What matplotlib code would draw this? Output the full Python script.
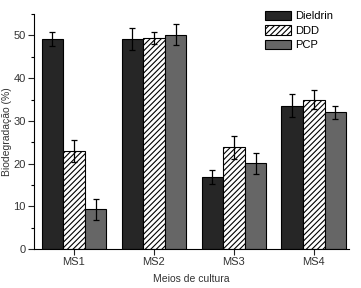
import matplotlib
matplotlib.use('Agg')
import matplotlib.pyplot as plt
import numpy as np
from matplotlib.ticker import MultipleLocator

plt.rcParams['font.family'] = ['Liberation Sans', 'DejaVu Sans']
plt.rcParams['hatch.linewidth'] = 0.8

# dados
meios = ['MS1', 'MS2', 'MS3', 'MS4']
dieldrin = [49.2, 49.2, 16.8, 33.6]
dieldrin_err = [1.6, 2.6, 1.6, 2.6]
ddd = [23.0, 49.4, 23.8, 35.0]
ddd_err = [2.6, 1.5, 2.6, 2.3]
pcp = [9.3, 50.2, 20.1, 32.0]
pcp_err = [2.4, 2.5, 2.5, 1.6]

fig = plt.figure(figsize=(3.61, 2.88), dpi=100)
ax = fig.add_axes([0.094, 0.135, 0.873, 0.816])

x = np.arange(len(meios))
w = 0.27
ek = dict(ecolor='black', elinewidth=0.9, capsize=2.2, capthick=0.9)
ax.bar(x - w, dieldrin, w, yerr=dieldrin_err, color='#262626', edgecolor='black', linewidth=0.8, label='Dieldrin', error_kw=ek)
ax.bar(x, ddd, w, yerr=ddd_err, color='white', edgecolor='black', hatch='//////', linewidth=0.8, label='DDD', error_kw=ek)
ax.bar(x + w, pcp, w, yerr=pcp_err, color='#666666', edgecolor='black', linewidth=0.8, label='PCP', error_kw=ek)

ax.set_xlim(-0.5, 3.44)
ax.set_ylim(0, 55)
ax.set_xticks(x)
ax.set_xticklabels(meios)
ax.yaxis.set_major_locator(MultipleLocator(10))
ax.yaxis.set_minor_locator(MultipleLocator(5))
ax.tick_params(axis='both', which='major', labelsize=8, length=4, width=0.8, pad=2,
               colors='#222222', labelcolor='#333333')
ax.tick_params(axis='y', which='minor', length=2.5, width=0.8)
ax.spines['top'].set_visible(False)
ax.spines['right'].set_visible(False)
ax.spines['left'].set_linewidth(0.8)
ax.spines['bottom'].set_linewidth(0.8)
ax.set_ylabel('Biodegradação (%)', fontsize=7.5, color='#333333', labelpad=1)
ax.set_xlabel('Meios de cultura', fontsize=7.5, color='#333333', labelpad=5)

ax.legend(loc='upper left', bbox_to_anchor=(0.715, 0.985), bbox_transform=fig.transFigure,
          frameon=False, fontsize=8, handlelength=2.4, handleheight=0.9,
          labelspacing=0.35, handletextpad=0.3, borderpad=0.1)

fig.savefig('out.png', dpi=100)
